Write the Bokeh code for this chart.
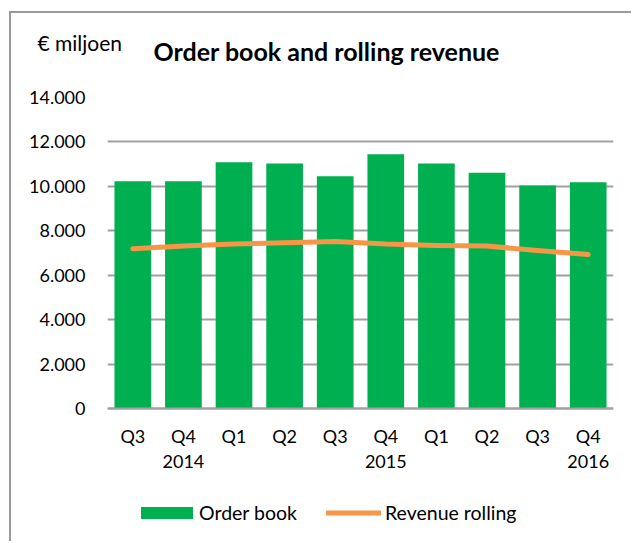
from bokeh.plotting import figure
from bokeh.models import (Range1d, FixedTicker, Legend, LegendItem,
                          Label, ColumnDataSource)
from bokeh.embed import file_html
from bokeh.resources import INLINE

# ---- data ----
periods = ["2014 Q3", "2014 Q4", "2015 Q1", "2015 Q2", "2015 Q3",
           "2015 Q4", "2016 Q1", "2016 Q2", "2016 Q3", "2016 Q4"]
quarter_labels = ["Q3", "Q4", "Q1", "Q2", "Q3", "Q4", "Q1", "Q2", "Q3", "Q4"]
year_labels = ["", "2014", "", "", "", "2015", "", "", "", "2016"]
order_book = [10230, 10230, 11090, 11030, 10460, 11450, 11030, 10610, 10040, 10180]
revenue_rolling = [7190, 7310, 7400, 7460, 7520, 7400, 7340, 7310, 7110, 6930]
y_ticks = [0, 2000, 4000, 6000, 8000, 10000, 12000, 14000]
y_tick_labels = ["0", "2.000", "4.000", "6.000", "8.000", "10.000", "12.000", "14.000"]

FONT = "Lato"
GREEN = "#00B050"
ORANGE = "#F79646"
GRID = "#a0a0a0"

# page offset of the figure content (margin + CSS border)
OX, OY = 11, 13
# page positions of the plot area (y=14000 line, y=0 line, bottom of page)
TOP_PX, ZERO_PX, BOTTOM_PX = 97, 408, 543
y_max = y_ticks[-1]
y_min = -y_max * (BOTTOM_PX - ZERO_PX) / (ZERO_PX - TOP_PX)

xpos = list(range(len(periods)))
src = ColumnDataSource(dict(x=xpos, period=periods, order=order_book,
                            revenue=revenue_rolling))

p = figure(width=633 - OX, height=543 - OY,
           x_range=Range1d(-0.5, len(periods) - 0.5),
           y_range=Range1d(y_min, y_max),
           output_backend="svg", toolbar_location=None,
           min_border_left=107 - OX, min_border_right=20,
           min_border_top=TOP_PX - OY, min_border_bottom=0,
           margin=(OY - 2, 0, 0, OX - 2))
p.styles = {"border-left": "2px solid #9a9a9a", "border-top": "2px solid #9a9a9a"}
p.outline_line_color = None
p.background_fill_color = "white"
p.border_fill_color = "white"

bars = p.vbar(x="x", top="order", bottom=0, width=0.725, source=src,
              fill_color=GREEN, line_color=None)
line = p.line(x="x", y="revenue", source=src, line_color=ORANGE,
              line_width=5, line_cap="round", line_join="round")

# axes
p.xgrid.grid_line_color = None
p.yaxis.ticker = FixedTicker(ticks=y_ticks)
p.yaxis.major_label_overrides = {t: l for t, l in zip(y_ticks, y_tick_labels)}
p.ygrid.grid_line_color = GRID
p.ygrid.grid_line_width = 2

p.yaxis.axis_line_color = None
p.yaxis.major_tick_line_color = None
p.yaxis.minor_tick_line_color = None
p.yaxis.major_tick_out = 0
p.yaxis.major_tick_in = 0
p.yaxis.major_label_standoff = 22
p.yaxis.major_label_text_font = FONT
p.yaxis.major_label_text_font_size = "18px"
p.yaxis.major_label_text_color = "black"

p.xaxis.fixed_location = 0
p.xaxis.ticker = FixedTicker(ticks=xpos)
p.xaxis.major_label_overrides = {
    i: (q if not y else q + "\n" + y)
    for i, q, y in zip(xpos, quarter_labels, year_labels)
}
p.xaxis.axis_line_color = GRID
p.xaxis.axis_line_width = 2
p.xaxis.major_tick_line_color = None
p.xaxis.minor_tick_line_color = None
p.xaxis.major_tick_out = 0
p.xaxis.major_tick_in = 0
p.xaxis.major_label_standoff = 16
p.xaxis.major_label_text_font = FONT
p.xaxis.major_label_text_font_size = "18px"
p.xaxis.major_label_text_color = "black"
p.xaxis.major_label_text_line_height = 1.16

# titles
p.add_layout(Label(x=35 - OX, y=40 - OY, x_units="canvas", y_units="canvas",
                   text="€ miljoen", text_font=FONT, text_font_size="21px",
                   text_baseline="middle", text_align="left", text_color="black"),
             "above")
p.add_layout(Label(x=151 - OX, y=48 - OY, x_units="canvas", y_units="canvas",
                   text="Order book and rolling revenue", text_font=FONT,
                   text_font_size="25px", text_font_style="bold",
                   text_baseline="middle", text_align="left", text_color="black"),
             "above")

# legends
common = dict(padding=0, margin=0, border_line_color=None, background_fill_alpha=0,
              label_text_font=FONT, label_text_font_size="19.5px",
              label_text_color="black", glyph_height=15, label_height=15)
leg1 = Legend(items=[LegendItem(label="Order book", renderers=[bars])],
              location=(27, 19), glyph_width=65, label_standoff=0, **common)
leg2 = Legend(items=[LegendItem(label="Revenue rolling", renderers=[line])],
              location=(219, 19), glyph_width=55, label_standoff=4, **common)
p.add_layout(leg1)
p.add_layout(leg2)

open("out.html", "w").write(file_html(p, INLINE))
